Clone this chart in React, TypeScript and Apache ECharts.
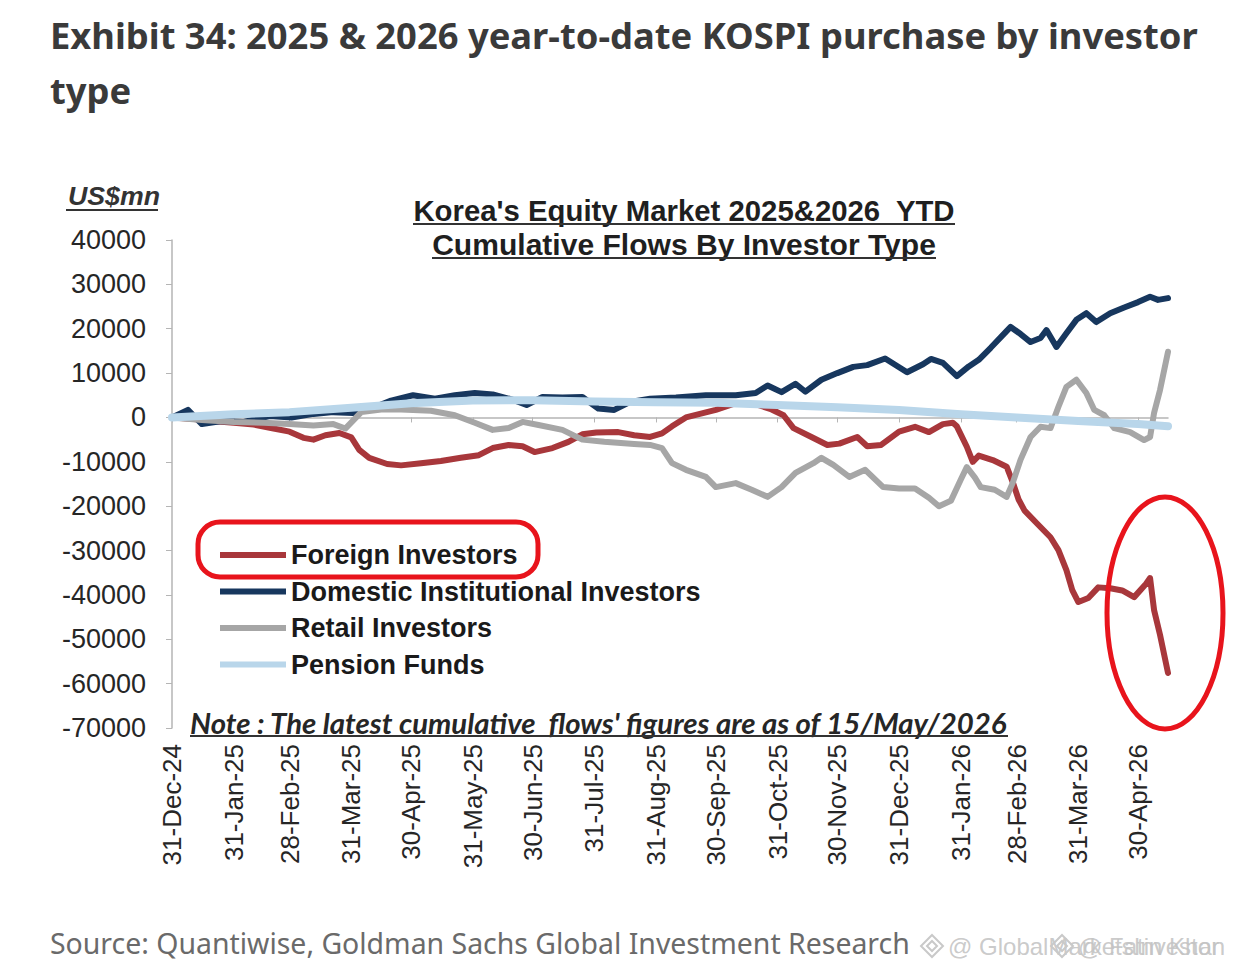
import { useEffect, useRef } from 'react';
import * as echarts from 'echarts';

const START_DATE = '2024-12-31';
const END_DATE = '2026-05-15';

const tickDates = ['2024-12-31', '2025-01-31', '2025-02-28', '2025-03-31', '2025-04-30', '2025-05-31', '2025-06-30', '2025-07-31', '2025-08-31', '2025-09-30', '2025-10-31', '2025-11-30', '2025-12-31', '2026-01-31', '2026-02-28', '2026-03-31', '2026-04-30'];
const tickLabels = ['31-Dec-24', '31-Jan-25', '28-Feb-25', '31-Mar-25', '30-Apr-25', '31-May-25', '30-Jun-25', '31-Jul-25', '31-Aug-25', '30-Sep-25', '31-Oct-25', '30-Nov-25', '31-Dec-25', '31-Jan-26', '28-Feb-26', '31-Mar-26', '30-Apr-26'];

const Y_MIN = -70000;
const Y_MAX = 40000;
const Y_STEP = 10000;

const seriesNames = ['Foreign Investors', 'Domestic Institutional Investors', 'Retail Investors', 'Pension Funds'];
const seriesColors = ['#a8373b', '#17375e', '#a6a6a6', '#b9d6ea'];

const foreignFlows: [string, number][] = [
  ['2024-12-31', 0], ['2025-01-10', -300], ['2025-01-20', -800], ['2025-01-31', -1200], ['2025-02-10', -1600],
  ['2025-02-20', -2500], ['2025-02-28', -3200], ['2025-03-07', -4600], ['2025-03-12', -5000], ['2025-03-18', -4000],
  ['2025-03-25', -3500], ['2025-03-31', -4500], ['2025-04-04', -7300], ['2025-04-09', -9100], ['2025-04-18', -10500],
  ['2025-04-25', -10800], ['2025-05-05', -10300], ['2025-05-15', -9800], ['2025-05-25', -9100], ['2025-06-03', -8500],
  ['2025-06-10', -6900], ['2025-06-18', -6200], ['2025-06-25', -6500], ['2025-07-01', -7800], ['2025-07-10', -6900],
  ['2025-07-18', -5500], ['2025-07-25', -3800], ['2025-08-01', -3400], ['2025-08-12', -3300], ['2025-08-20', -4000],
  ['2025-08-28', -4400], ['2025-09-03', -3600], ['2025-09-08', -2000], ['2025-09-15', 0], ['2025-09-22', 800],
  ['2025-09-30', 1700], ['2025-10-10', 3200], ['2025-10-20', 3000], ['2025-10-28', 1800], ['2025-11-03', 500],
  ['2025-11-08', -2400], ['2025-11-17', -4400], ['2025-11-25', -6200], ['2025-12-01', -5900], ['2025-12-10', -4400],
  ['2025-12-15', -6500], ['2025-12-22', -6200], ['2025-12-31', -3200], ['2026-01-08', -2100], ['2026-01-15', -3300],
  ['2026-01-22', -1500], ['2026-01-27', -1200], ['2026-01-29', -2000], ['2026-02-03', -6600], ['2026-02-06', -10000],
  ['2026-02-09', -8600], ['2026-02-16', -9600], ['2026-02-23', -11100], ['2026-02-26', -14500], ['2026-03-01', -18500],
  ['2026-03-04', -21000], ['2026-03-10', -23800], ['2026-03-17', -27000], ['2026-03-21', -29900], ['2026-03-25', -34400],
  ['2026-03-28', -39000], ['2026-03-31', -41600], ['2026-04-05', -40700], ['2026-04-10', -38300], ['2026-04-16', -38500],
  ['2026-04-22', -39000], ['2026-04-28', -40500], ['2026-05-04', -37500], ['2026-05-06', -36200], ['2026-05-08', -43400],
  ['2026-05-11', -49000], ['2026-05-15', -57600],
];

const domesticFlows: [string, number][] = [
  ['2024-12-31', 0], ['2025-01-08', 1700], ['2025-01-15', -1500], ['2025-01-25', -800], ['2025-02-05', -1000],
  ['2025-02-18', 300], ['2025-03-01', 0], ['2025-03-12', 800], ['2025-03-22', 1200], ['2025-04-01', 1000],
  ['2025-04-10', 2000], ['2025-04-20', 3800], ['2025-05-01', 5000], ['2025-05-12', 4200], ['2025-05-22', 5000],
  ['2025-06-01', 5500], ['2025-06-10', 5200], ['2025-06-20', 4000], ['2025-06-27', 2800], ['2025-07-05', 4600],
  ['2025-07-15', 4500], ['2025-07-25', 4600], ['2025-08-02', 2000], ['2025-08-10', 1700], ['2025-08-18', 3500],
  ['2025-08-28', 4200], ['2025-09-10', 4500], ['2025-09-25', 5000], ['2025-10-10', 5000], ['2025-10-20', 5500],
  ['2025-10-26', 7200], ['2025-11-02', 5700], ['2025-11-09', 7600], ['2025-11-14', 5800], ['2025-11-22', 8500],
  ['2025-11-30', 10000], ['2025-12-08', 11400], ['2025-12-15', 11800], ['2025-12-24', 13300], ['2026-01-04', 10200],
  ['2026-01-12', 12000], ['2026-01-16', 13200], ['2026-01-22', 12300], ['2026-01-29', 9300], ['2026-02-04', 11500],
  ['2026-02-09', 13000], ['2026-02-15', 15700], ['2026-02-22', 19000], ['2026-02-25', 20400], ['2026-03-02', 18800],
  ['2026-03-07', 17000], ['2026-03-12', 17900], ['2026-03-15', 19700], ['2026-03-20', 15900], ['2026-03-25', 19000],
  ['2026-03-30', 22000], ['2026-04-04', 23500], ['2026-04-09', 21500], ['2026-04-16', 23500], ['2026-04-23', 24800],
  ['2026-04-30', 26000], ['2026-05-06', 27200], ['2026-05-10', 26500], ['2026-05-15', 26900],
];

const retailFlows: [string, number][] = [
  ['2024-12-31', 0], ['2025-01-15', -600], ['2025-01-31', -1000], ['2025-02-15', -1200], ['2025-02-28', -1500],
  ['2025-03-12', -1800], ['2025-03-22', -1500], ['2025-03-28', -2500], ['2025-04-05', 1200], ['2025-04-15', 1800],
  ['2025-04-25', 1800], ['2025-05-10', 1500], ['2025-05-22', 500], ['2025-06-01', -1200], ['2025-06-10', -2800],
  ['2025-06-18', -2400], ['2025-06-25', -1000], ['2025-07-03', -1700], ['2025-07-15', -2800], ['2025-07-25', -5000],
  ['2025-08-05', -5500], ['2025-08-20', -6000], ['2025-08-28', -6200], ['2025-09-03', -6900], ['2025-09-08', -10300],
  ['2025-09-15', -11800], ['2025-09-25', -13400], ['2025-09-30', -15700], ['2025-10-10', -14800], ['2025-10-18', -16300],
  ['2025-10-26', -17900], ['2025-11-02', -15700], ['2025-11-09', -12500], ['2025-11-18', -10300], ['2025-11-22', -9100],
  ['2025-11-28', -10700], ['2025-12-06', -13400], ['2025-12-14', -11800], ['2025-12-23', -15700], ['2025-12-31', -16000],
  ['2026-01-08', -16000], ['2026-01-15', -18100], ['2026-01-20', -20000], ['2026-01-26', -18800], ['2026-01-31', -14000],
  ['2026-02-03', -11200], ['2026-02-07', -13500], ['2026-02-10', -15700], ['2026-02-17', -16300], ['2026-02-23', -17900],
  ['2026-02-26', -14800], ['2026-03-02', -9500], ['2026-03-07', -4400], ['2026-03-12', -2100], ['2026-03-17', -2400],
  ['2026-03-21', 2400], ['2026-03-25', 6900], ['2026-03-30', 8500], ['2026-04-04', 5500], ['2026-04-08', 1700],
  ['2026-04-13', 500], ['2026-04-18', -2400], ['2026-04-26', -3300], ['2026-05-03', -5100], ['2026-05-06', -4400],
  ['2026-05-08', 1000], ['2026-05-11', 6200], ['2026-05-15', 14800],
];

const pensionFlows: [string, number][] = [
  ['2024-12-31', 0], ['2025-01-31', 700], ['2025-02-28', 1200], ['2025-03-31', 2200], ['2025-04-30', 3200],
  ['2025-05-31', 3800], ['2025-06-30', 3900], ['2025-07-31', 3600], ['2025-08-31', 3400], ['2025-09-30', 3300],
  ['2025-10-31', 2800], ['2025-11-30', 2300], ['2025-12-31', 1700], ['2026-01-31', 700], ['2026-02-28', 0],
  ['2026-03-31', -800], ['2026-04-30', -1500], ['2026-05-15', -2000],
];

const seriesData = [foreignFlows, domesticFlows, retailFlows, pensionFlows];
const seriesWidths = [6, 6, 6, 8];

const TITLE_1 = 'Exhibit 34: 2025 & 2026 year-to-date KOSPI purchase by investor';
const TITLE_2 = 'type';
const INNER_TITLE_1 = "Korea's Equity Market 2025&2026  YTD";
const INNER_TITLE_2 = 'Cumulative Flows By Investor Type';
const UNIT_LABEL = 'US$mn';
const NOTE = "Note : The latest cumulative  flows' figures are as of 15/May/2026";
const SOURCE = 'Source: Quantiwise, Goldman Sachs Global Investment Research';
const WATERMARK_1 = '@ GlobalMarketsInvestor';
const WATERMARK_2 = '@ Fatin Khan';

function buildDays(start: string, end: string): string[] {
  const out: string[] = [];
  const d = new Date(start + 'T00:00:00Z');
  const e = new Date(end + 'T00:00:00Z');
  while (d.getTime() <= e.getTime()) {
    out.push(d.toISOString().slice(0, 10));
    d.setUTCDate(d.getUTCDate() + 1);
  }
  return out;
}

function fitSize(text: string, weight: string, style: string, family: string, target: number): number {
  const ctx = document.createElement('canvas').getContext('2d');
  if (!ctx) return 20;
  ctx.font = `${style} ${weight} 100px ${family}`;
  const w = ctx.measureText(text).width || 1;
  return (100 * target) / w;
}

export default function App() {
  const ref = useRef<HTMLDivElement>(null);

  useEffect(() => {
    document.body.style.margin = '0';
    document.body.style.overflow = 'hidden';
    if (!ref.current) return;
    const chart = echarts.init(ref.current, null, { renderer: 'svg' });

    const days = buildDays(START_DATE, END_DATE);
    const tickSet = new Set(tickDates);
    const labelMap: Record<string, string> = {};
    tickDates.forEach((d, i) => (labelMap[d] = tickLabels[i]));

    const titleFamily = '"Noto Sans", "Open Sans", sans-serif';
    const innerFamily = '"Liberation Sans Narrow", "Liberation Sans", Arial, sans-serif';
    const arial = '"Liberation Sans", Arial, sans-serif';
    const noteFamily = 'Lato, "Open Sans", sans-serif';

    const tSize = fitSize(TITLE_1, 'bold', 'normal', titleFamily, 1148);
    const in1W = 542;
    const in2W = 504;
    const in1Size = fitSize(INNER_TITLE_1, 'bold', 'normal', innerFamily, in1W);
    const in2Size = fitSize(INNER_TITLE_2, 'bold', 'normal', innerFamily, in2W);
    const unitW = 92;
    const unitSize = fitSize(UNIT_LABEL, 'bold', 'italic', arial, unitW);
    const noteW = 818;
    const noteSize = fitSize(NOTE, 'bold', 'italic', noteFamily, noteW);
    const srcSize = fitSize(SOURCE, 'normal', 'normal', titleFamily, 860);

    const cx = 684;
    const diamond = (x: number, y: number, s: number) => ({
      type: 'polygon',
      shape: { points: [[x, y - s], [x + s, y], [x, y + s], [x - s, y]] },
      style: { fill: 'none', stroke: '#c9c9c9', lineWidth: 2 },
      silent: true,
    });

    const graphic: any[] = [
      { type: 'text', x: 50, y: 35, style: { text: TITLE_1, fill: '#3a3a3a', fontSize: tSize, fontWeight: 'bold', fontFamily: titleFamily, textVerticalAlign: 'middle' } },
      { type: 'text', x: 50, y: 90, style: { text: TITLE_2, fill: '#3a3a3a', fontSize: tSize, fontWeight: 'bold', fontFamily: titleFamily, textVerticalAlign: 'middle' } },
      { type: 'text', x: cx, y: 210, style: { text: INNER_TITLE_1, fill: '#1f1f1f', fontSize: in1Size, fontWeight: 'bold', fontFamily: innerFamily, textAlign: 'center', textVerticalAlign: 'middle' } },
      { type: 'line', shape: { x1: cx - in1W / 2, y1: 224, x2: cx + in1W / 2, y2: 224 }, style: { stroke: '#333', lineWidth: 2 } },
      { type: 'text', x: cx, y: 244, style: { text: INNER_TITLE_2, fill: '#1f1f1f', fontSize: in2Size, fontWeight: 'bold', fontFamily: innerFamily, textAlign: 'center', textVerticalAlign: 'middle' } },
      { type: 'line', shape: { x1: cx - in2W / 2, y1: 258, x2: cx + in2W / 2, y2: 258 }, style: { stroke: '#333', lineWidth: 2 } },
      { type: 'text', x: 68, y: 196, style: { text: UNIT_LABEL, fill: '#333', fontSize: unitSize, fontWeight: 'bold', fontStyle: 'italic', fontFamily: arial, textVerticalAlign: 'middle' } },
      { type: 'line', shape: { x1: 66, y1: 210, x2: 66 + unitW, y2: 210 }, style: { stroke: '#333', lineWidth: 2 } },
      { type: 'text', x: 190, y: 722, style: { text: NOTE, fill: '#262626', fontSize: noteSize, fontWeight: 'bold', fontStyle: 'italic', fontFamily: noteFamily, textVerticalAlign: 'middle' } },
      { type: 'line', shape: { x1: 190, y1: 736, x2: 190 + noteW, y2: 736 }, style: { stroke: '#333', lineWidth: 2 } },
      { type: 'text', x: 50, y: 943, style: { text: SOURCE, fill: '#6a6a6a', fontSize: srcSize, fontFamily: titleFamily, textVerticalAlign: 'middle' } },
      diamond(932, 946, 11),
      diamond(932, 946, 5),
      { type: 'text', x: 948, y: 946, style: { text: WATERMARK_1, fill: '#c4c4c4', fontSize: 24, fontFamily: arial, textVerticalAlign: 'middle', opacity: 0.9 } },
      diamond(1062, 946, 11),
      diamond(1062, 946, 5),
      { type: 'text', x: 1078, y: 946, style: { text: WATERMARK_2, fill: '#c4c4c4', fontSize: 24, fontFamily: arial, textVerticalAlign: 'middle', opacity: 0.9 } },
      { type: 'rect', shape: { x: 198, y: 522, width: 340, height: 55, r: 22 }, style: { fill: 'none', stroke: '#e8141c', lineWidth: 5 }, z: 100 },
      { type: 'ellipse', shape: { cx: 1165, cy: 613, rx: 58, ry: 116 }, style: { fill: 'none', stroke: '#e8141c', lineWidth: 5 }, z: 100 },
    ];

    const tickFn = (_i: number, v: string) => tickSet.has(v);

    chart.setOption({
      animation: false,
      backgroundColor: '#ffffff',
      grid: { left: 172, right: 72, top: 240, bottom: 245, containLabel: false, outerBoundsMode: 'none' },
      legend: {
        orient: 'vertical',
        left: 220,
        top: 541,
        padding: 0,
        itemWidth: 66,
        itemHeight: 6,
        itemGap: 8.5,
        icon: 'rect',
        data: seriesNames,
        textStyle: { fontSize: 27, fontWeight: 'bold', fontFamily: arial, color: '#1a1a1a', lineHeight: 28 },
      },
      xAxis: {
        type: 'category',
        data: days,
        boundaryGap: false,
        axisLine: { show: true, onZero: true, lineStyle: { color: '#b5b5b5', width: 1.5 } },
        axisTick: { show: true, interval: tickFn, length: 5, inside: false, lineStyle: { color: '#b5b5b5' } },
        axisLabel: {
          interval: tickFn,
          rotate: 90,
          margin: 16,
          fontSize: 26,
          fontFamily: arial,
          color: '#262626',
          formatter: (v: string) => labelMap[v] || '',
        },
        splitLine: { show: false },
      },
      yAxis: {
        type: 'value',
        min: Y_MIN,
        max: Y_MAX,
        interval: Y_STEP,
        axisLine: { show: true, lineStyle: { color: '#b5b5b5', width: 1.5 } },
        axisTick: { show: true, length: 6, lineStyle: { color: '#b5b5b5' } },
        axisLabel: { margin: 26, fontSize: 27, fontFamily: arial, color: '#262626', formatter: (v: number) => String(v) },
        splitLine: { show: false },
      },
      series: seriesNames.map((name, i) => ({
        name,
        type: 'line',
        data: seriesData[i],
        showSymbol: false,
        symbol: 'none',
        color: seriesColors[i],
        lineStyle: { color: seriesColors[i], width: seriesWidths[i], join: 'round', cap: 'round' },
        z: 2 + i,
      })),
      graphic,
    });

    return () => chart.dispose();
  }, []);

  return <div ref={ref} style={{ width: 1240, height: 973 }} />;
}
